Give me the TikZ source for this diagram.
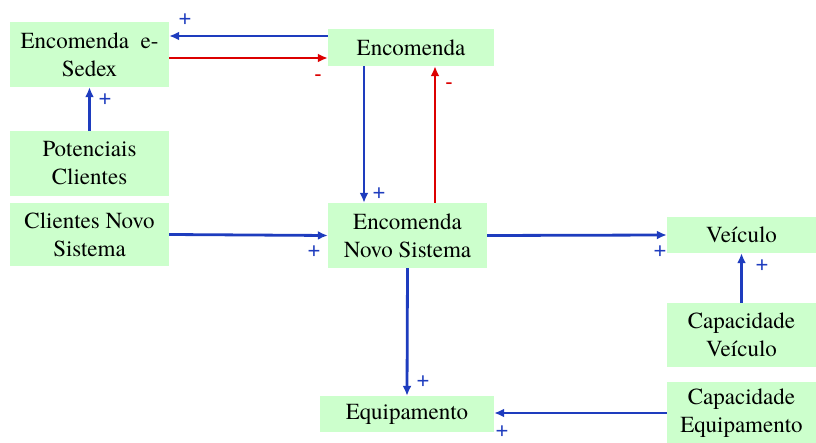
\documentclass[tikz,border=0pt]{standalone}
\usepackage{fontspec}
\setmainfont{texgyretermes-regular.otf}
\newfontfamily\boxfont{texgyretermes-regular.otf}
\newfontfamily\signfont{Liberation Sans}
\usetikzlibrary{arrows.meta}
\definecolor{boxgreen}{RGB}{204,255,204}
\definecolor{posblue}{RGB}{30,60,190}
\definecolor{negred}{RGB}{220,0,0}
\tikzset{
  var/.style={fill=boxgreen,inner sep=0pt,align=center,font=\boxfont\fontsize{23}{28}\selectfont},
  poslink/.style={draw=posblue,line width=2.8pt,-{Latex[length=10pt,width=9pt]}},
  neglink/.style={draw=negred,line width=2.8pt,-{Latex[length=10pt,width=9pt]}},
  plus/.style={text=posblue,font=\signfont\fontsize{22}{22}\selectfont,inner sep=0pt},
  minus/.style={text=negred,font=\signfont\fontsize{22}{22}\selectfont,inner sep=0pt}
}
\begin{document}
\begin{tikzpicture}[x=1pt,y=-1pt]
  \useasboundingbox (0,0) rectangle (816,443);
  \node[var,minimum width=159pt,minimum height=65pt] (esedex) at (89.5,54.5) {Encomenda\ \ e-\\Sedex};
  \node[var,minimum width=166pt,minimum height=37pt] (enc) at (411,47.5) {Encomenda};
  \node[var,minimum width=159pt,minimum height=65pt] (pot) at (89.5,163.5) {Potenciais\\Clientes};
  \node[var,minimum width=159pt,minimum height=63pt] (cns) at (89.5,234.5) {Clientes Novo\\Sistema};
  \node[var,minimum width=159pt,minimum height=65pt] (ens) at (407.5,235.5) {Encomenda\\Novo Sistema};
  \node[var,minimum width=149pt,minimum height=36pt] (vei) at (741.5,235) {Veículo};
  \node[var,minimum width=149pt,minimum height=64pt] (capv) at (741.5,335) {Capacidade\\Veículo};
  \node[var,minimum width=174pt,minimum height=36pt] (equip) at (407,414) {Equipamento};
  \node[var,minimum width=149pt,minimum height=62pt] (cape) at (741.5,413) {Capacidade\\Equipamento};
  % links
  \draw[poslink] (enc.west |- 0,36) -- (esedex.east |- 0,36);
  \draw[neglink] (esedex.east |- 0,58) -- (enc.west |- 0,58);
  \draw[poslink] (pot.north) -- (esedex.south);
  \draw[poslink] (enc.south -| 364,0) -- (ens.north -| 364,0);
  \draw[neglink] (ens.north -| 435,0) -- (enc.south -| 435,0);
  \draw[poslink] (cns.east) -- (ens.west);
  \draw[poslink] (ens.east) -- (vei.west);
  \draw[poslink] (capv.north) -- (vei.south);
  \draw[poslink] (ens.south) -- (equip.north);
  \draw[poslink] (cape.west) -- (equip.east |- cape.west);
  % polarities
  \node[plus] (s1) at (185,20) {+};
  \node[minus] (s2) at (318,78) {-};
  \node[plus] (s3) at (105,100) {+};
  \node[plus] (s4) at (379,194) {+};
  \node[minus] (s5) at (449,86) {-};
  \node[plus] (s6) at (314,252) {+};
  \node[plus] (s7) at (660,252) {+};
  \node[plus] (s8) at (762,266) {+};
  \node[plus] (s9) at (423,382) {+};
  \node[plus] (s10) at (502,432) {+};
\end{tikzpicture}
\end{document}
